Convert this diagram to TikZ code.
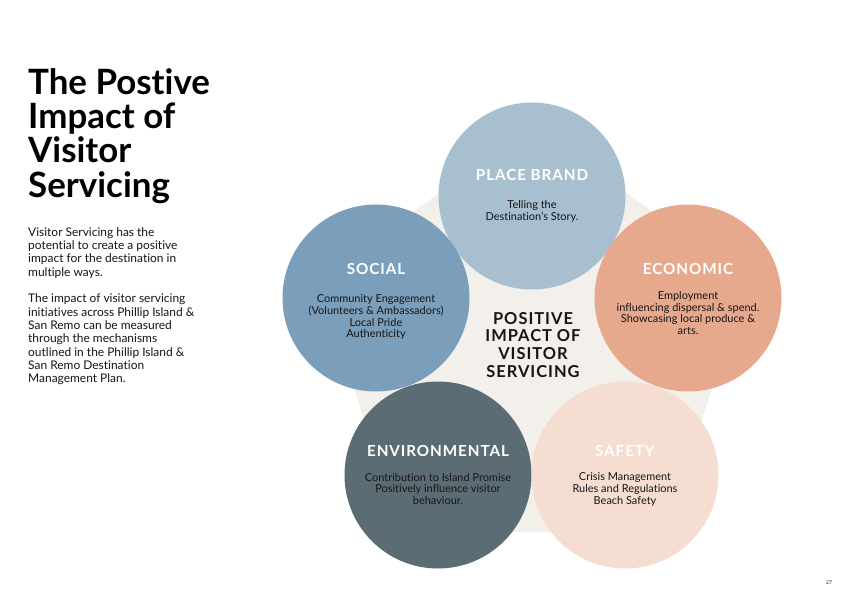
\documentclass[tikz,border=0pt]{standalone}
\usepackage{fontspec}
\setmainfont{Lato}[Ligatures=NoCommon]
\newfontfamily\capsfont{Lato}[LetterSpace=6,Ligatures=NoCommon]
\usepackage{xcolor}
\usetikzlibrary{shapes.geometric,positioning}

\definecolor{bgpent}{HTML}{F3EFEB}
\definecolor{brandcol}{HTML}{A8BFD0}
\definecolor{socialcol}{HTML}{7B9EBA}
\definecolor{econcol}{HTML}{E6A98D}
\definecolor{envcol}{HTML}{5C6C75}
\definecolor{safecol}{HTML}{F5DDD1}
\definecolor{inkcol}{HTML}{161616}

\begin{document}
\begin{tikzpicture}[x=1bp,y=-1bp,
                    main node/.style={circle,minimum size=187bp,inner sep=0pt},
                    head/.style={text=white,font=\capsfont\bfseries\fontsize{15.3}{17}\selectfont},
                    body/.style={text=inkcol,align=center,font=\fontsize{11}{12}\selectfont}]

  \useasboundingbox[fill=white] (0,0) rectangle (841,595);

  % left column
  \node[anchor=north west,align=left,inner sep=0pt,text=black,
        font=\bfseries\fontsize{35}{34.5}\selectfont] (title) at (28,68)
        {The Postive\\Impact of\\Visitor\\Servicing};
  \node[anchor=north west,align=left,inner sep=0pt,text=inkcol,
        font=\fontsize{12}{13.4}\selectfont] (intro) at (28,227)
        {Visitor Servicing has the\\potential to create a positive\\impact for the destination in\\multiple ways.\\[13.4bp]
         The impact of visitor servicing\\initiatives across Phillip Island \&\\San Remo can be measured\\through the mechanisms\\outlined in the Phillip Island \&\\San Remo Destination\\Management Plan.};

  % backdrop
  \node[regular polygon,regular polygon sides=5,minimum size=450bp,inner sep=0pt,
        fill=bgpent,rounded corners=40bp] (pent) at (533,350) {};

  % circles
  \node[main node,fill=brandcol] (brand) at (532,196) {};
  \node[main node,fill=socialcol] (social) at (376,298) {};
  \node[main node,fill=econcol] (econ) at (688,298) {};
  \node[main node,fill=envcol] (env) at (438,475) {};
  \node[main node,fill=safecol] (safe) at (625,475) {};

  \node[text=inkcol,align=center,font=\capsfont\bfseries\fontsize{16.5}{18}\selectfont] (core) at (533,345)
        {POSITIVE\\IMPACT OF\\VISITOR\\SERVICING};

  \node[head] (brandH) [shift={(0,-21)}] at (brand) {PLACE BRAND};
  \node[body] (brandB) [shift={(0,15)}] at (brand) {Telling the\\Destination's Story.};

  \node[head] (socialH) [shift={(0,-29)}] at (social) {SOCIAL};
  \node[body] (socialB) [shift={(0,19)}] at (social)
        {Community Engagement\\(Volunteers \& Ambassadors)\\Local Pride\\Authenticity};

  \node[head] (econH) [shift={(0,-29)}] at (econ) {ECONOMIC};
  \node[body] (econB) [shift={(0,15)}] at (econ)
        {Employment\\influencing dispersal \& spend.\\Showcasing local produce \&\\arts.};

  \node[head] (envH) [shift={(0,-24)}] at (env) {ENVIRONMENTAL};
  \node[body] (envB) [shift={(0,14)}] at (env)
        {Contribution to Island Promise\\Positively influence visitor\\behaviour.};

  \node[head] (safeH) [shift={(0,-24)}] at (safe) {SAFETY};
  \node[body] (safeB) [shift={(0,14)}] at (safe)
        {Crisis Management\\Rules and Regulations\\Beach Safety};

  \node[text=inkcol,font=\fontsize{5}{6}\selectfont] (page) at (829,583) {27};

\end{tikzpicture}
\end{document}
